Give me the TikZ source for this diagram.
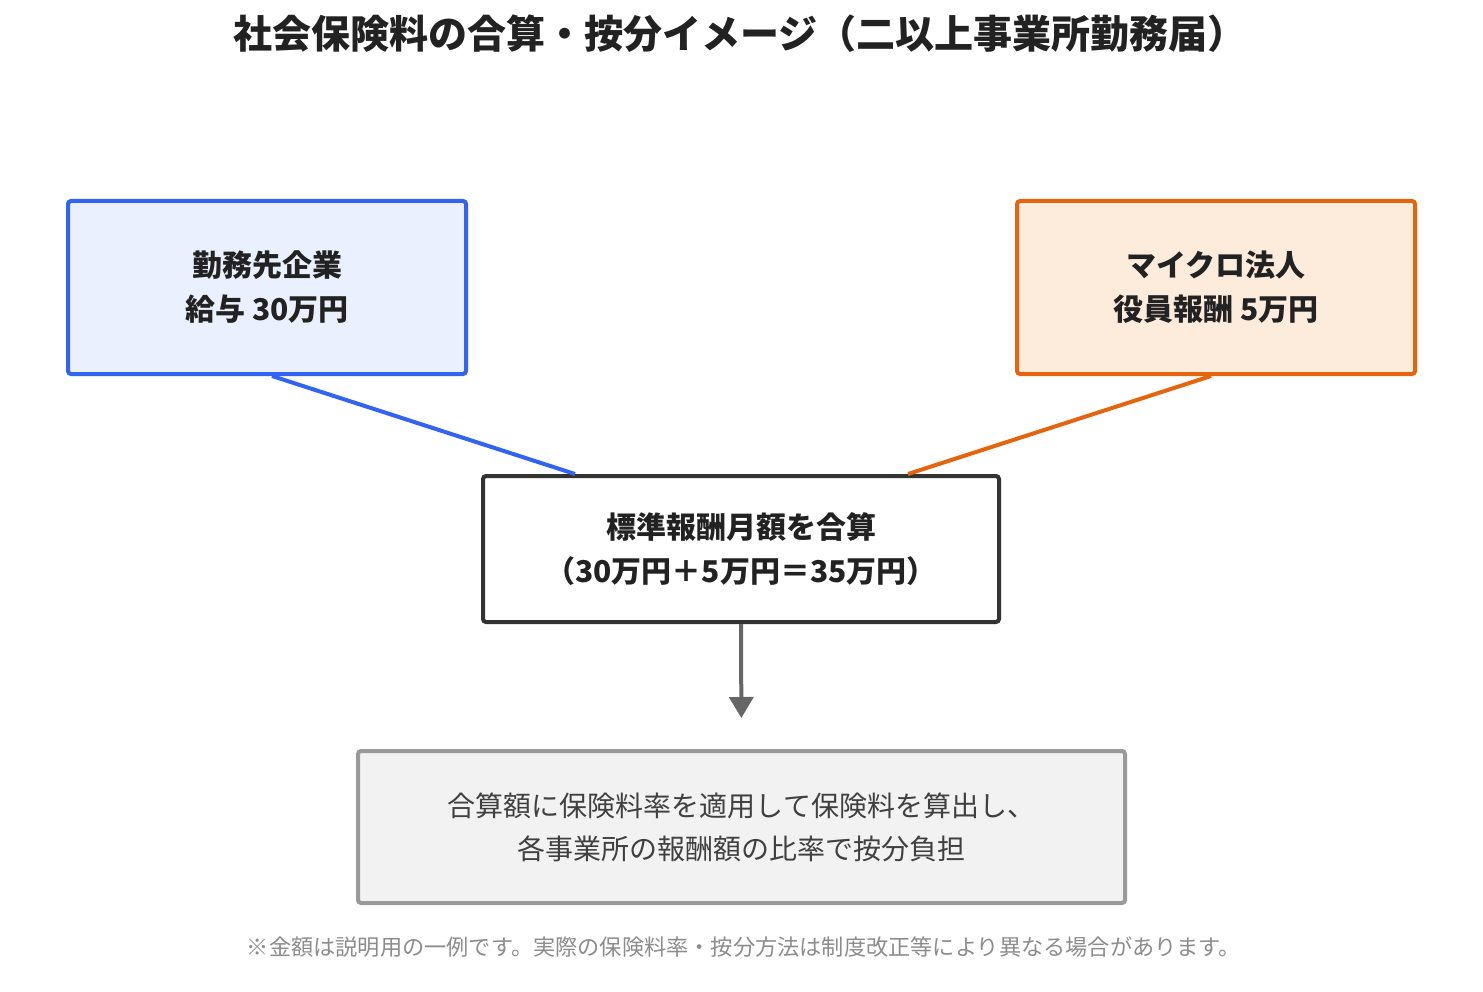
\documentclass[tikz,border=0pt]{standalone}
\usepackage{fontspec}
\setmainfont{Noto Sans CJK JP}
\usetikzlibrary{calc}
\usetikzlibrary{arrows.meta}
\definecolor{workline}{HTML}{3363F2}
\definecolor{workfill}{HTML}{EAF0FE}
\definecolor{corpline}{HTML}{E4650E}
\definecolor{corpfill}{HTML}{FDEBDB}
\definecolor{sumline}{HTML}{333333}
\definecolor{resline}{HTML}{9A9A9A}
\definecolor{resfill}{HTML}{F2F2F2}
\definecolor{arrline}{HTML}{666666}
\definecolor{txtdark}{HTML}{222222}
\newcommand{\bigtxt}{\fontsize{30}{44}\selectfont\bfseries}
\newcommand{\midtxt}{\fontsize{28}{43}\selectfont}
\tikzset{
  box/.style={draw, rectangle, rounded corners=3pt, line width=4pt, align=center, inner sep=0pt, text=txtdark},
  wbox/.style={box, draw=workline, fill=workfill, minimum width=398pt, minimum height=173pt, font=\bigtxt},
  cbox/.style={box, draw=corpline, fill=corpfill, minimum width=398pt, minimum height=173pt, font=\bigtxt},
  sbox/.style={box, draw=sumline, fill=white, minimum width=516pt, minimum height=146pt, font=\bigtxt},
  rbox/.style={box, draw=resline, fill=resfill, minimum width=767pt, minimum height=152pt, font=\midtxt, text=black!75},
  link/.style={line width=4pt},
  flow/.style={draw=arrline, line width=4pt, -{Triangle[width=24pt,length=21pt]}}
}

\begin{document}
\begin{tikzpicture}[x=1pt,y=-1pt]
        \useasboundingbox (0,0) rectangle (1483,992);
        % title
        \node[font=\fontsize{39}{42}\selectfont\bfseries, text=txtdark] (title) at (740,34) {社会保険料の合算・按分イメージ（二以上事業所勤務届）};
        % boxes
        \node[wbox] (work) at (267,287.5) {勤務先企業\\給与 30万円};
        \node[cbox] (corp) at (1216,287.5) {マイクロ法人\\役員報酬 5万円};
        \node[sbox] (sum) at (741,549) {標準報酬月額を合算\\（30万円＋5万円＝35万円）};
        \node[rbox] (res) at (741.5,827) {合算額に保険料率を適用して保険料を算出し、\\各事業所の報酬額の比率で按分負担};
        % links
        \draw[link, workline] ($(work.south)+(5,0)$) -- ($(sum.north)+(-166,0)$);
        \draw[link, corpline] ($(corp.south)+(-5,0)$) -- ($(sum.north)+(167,0)$);
        % arrow
        \draw[flow, shorten >=31pt] (sum.south) -- (res.north);
        % note
        \node[font=\fontsize{22.2}{24}\selectfont, text=black!45] (note) at (744,947) {※金額は説明用の一例です。実際の保険料率・按分方法は制度改正等により異なる場合があります。};
\end{tikzpicture}
\end{document}
